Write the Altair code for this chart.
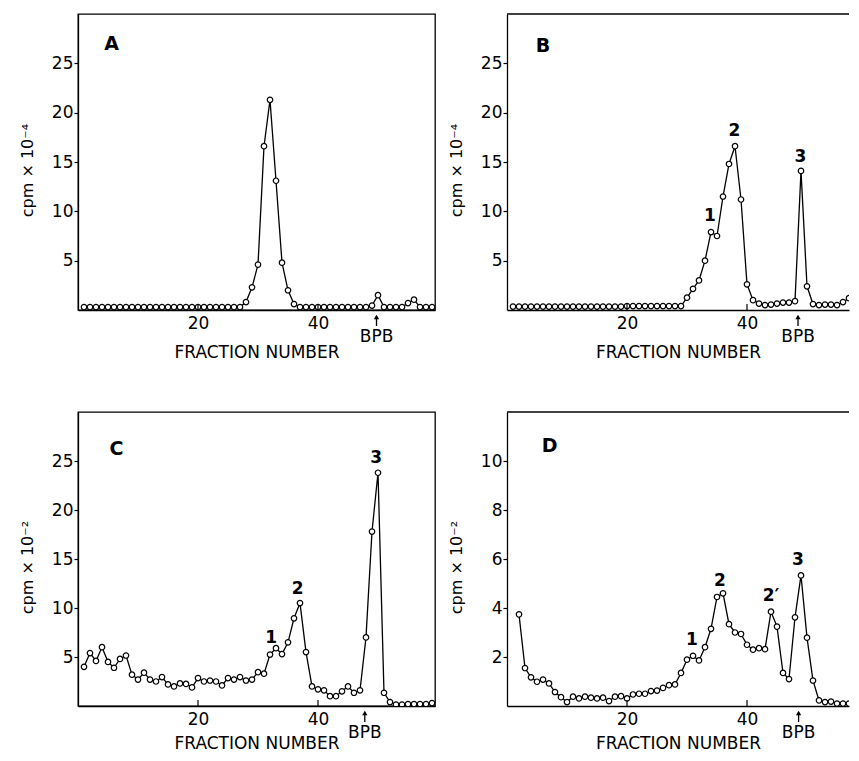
import altair as alt
import pandas as pd

FONT = "DejaVu Sans"

# ---------------- data ----------------
frac_full = list(range(1, 60))   # panels A, B, C
frac_d = list(range(2, 59))      # panel D

vals_a = ([0.3] * 27 +
          [0.8, 2.3, 4.6, 16.6, 21.3, 13.1, 4.8, 2.0, 0.6] +
          [0.3] * 12 + [0.45, 1.5] + [0.3] * 4 + [0.7, 1.05] + [0.3] * 3)

vals_b = ([0.35] * 19 + [0.4] * 10 +
          [1.25, 2.15, 3.0, 5.0, 7.9, 7.5, 11.5, 14.8, 16.6, 11.2, 2.6, 1.0,
           0.65, 0.5, 0.55, 0.65, 0.75, 0.75, 0.9, 14.1, 2.4, 0.6, 0.5, 0.55,
           0.55, 0.5, 0.8, 1.2, 0.55, 0.5])

vals_c = [4.0, 5.4, 4.6, 6.0, 4.5, 3.9, 4.8, 5.15, 3.2, 2.7,
          3.4, 2.7, 2.5, 2.95, 2.2, 2.0, 2.3, 2.25, 1.9, 2.85,
          2.5, 2.6, 2.5, 2.1, 2.85, 2.7, 2.95, 2.6, 2.7, 3.45,
          3.3, 5.25, 5.9, 5.3, 6.5, 8.95, 10.5, 5.5, 2.0, 1.7,
          1.6, 1.0, 1.0, 1.5, 2.0, 1.35, 1.6, 7.0, 17.8, 23.8,
          1.35, 0.4, 0.15, 0.15, 0.2, 0.2, 0.2, 0.2, 0.3]

vals_d = [3.74, 1.55, 1.17, 0.99, 1.08, 0.92, 0.57, 0.36, 0.16, 0.38,
          0.31, 0.38, 0.34, 0.31, 0.34, 0.2, 0.38, 0.4, 0.31, 0.47,
          0.5, 0.5, 0.61, 0.63, 0.74, 0.85, 0.88, 1.35, 1.89, 2.05,
          1.86, 2.4, 3.15, 4.45, 4.6, 3.34, 3.0, 2.94, 2.5, 2.3,
          2.36, 2.32, 3.85, 3.24, 1.35, 1.1, 3.62, 5.33, 2.79, 1.04,
          0.23, 0.16, 0.18, 0.1, 0.1, 0.1, 0.2]

xtick_vals = [20, 40]
yticks_abc = [5, 10, 15, 20, 25]
yticks_d = [2, 4, 6, 8, 10]

panel_letters = ["A", "B", "C", "D"]
letter_frac = [5.6, 6.0, 6.4, 7.1]
letter_val = [27.0, 26.8, 26.2, 10.6]

peak_text_b = ["1", "2", "3"]
peak_frac_b = [33.8, 37.9, 48.9]
peak_val_b = [9.5, 18.1, 15.5]

peak_text_c = ["1", "2", "3"]
peak_frac_c = [32.2, 36.6, 49.7]
peak_val_c = [6.9, 11.9, 25.3]

peak_text_d = ["1", "2", "2\u2032", "3"]
peak_frac_d = [30.8, 35.5, 44.0, 48.5]
peak_val_d = [2.7, 5.1, 4.5, 5.94]

bpb_frac = [49.75, 48.5, 47.8, 48.6]
bpb_text = "BPB"

y_titles = ["cpm \u00d7 10\u207b\u2074", "cpm \u00d7 10\u207b\u2074",
            "cpm \u00d7 10\u207b\u00b2", "cpm \u00d7 10\u207b\u00b2"]


def panel(frac, vals, idx, peaks, ymax, yticks, W, H, xmax, boxed, xtitle_pad):
    df = pd.DataFrame({"frac": frac, "val": vals})

    def xenc():
        return alt.X("frac:Q",
                     scale=alt.Scale(domain=[0, xmax], nice=False, zero=False),
                     axis=alt.Axis(values=xtick_vals, ticks=False, tickSize=0,
                                   labelPadding=5, title="FRACTION NUMBER",
                                   titlePadding=xtitle_pad, grid=False))

    def yenc():
        return alt.Y("val:Q",
                     scale=alt.Scale(domain=[0, ymax], nice=False, zero=False),
                     axis=alt.Axis(values=yticks, tickSize=4, labelPadding=1,
                                   title=y_titles[idx], titlePadding=16,
                                   titleY=H / 2 + 8, grid=False))

    line = alt.Chart(df).mark_line(color="black", strokeWidth=1.3, clip=True).encode(
        x=xenc(), y=yenc())
    pts = alt.Chart(df).mark_point(shape="circle", filled=True, fill="white",
                                   stroke="black", strokeWidth=1.2, size=30,
                                   opacity=1, clip=True).encode(x=xenc(), y=yenc())

    dlet = pd.DataFrame({"frac": [letter_frac[idx]], "val": [letter_val[idx]],
                         "t": [panel_letters[idx]]})
    letter = alt.Chart(dlet).mark_text(font=FONT, fontSize=19, fontWeight="bold",
                                       color="black").encode(
        x=xenc(), y=yenc(), text="t:N")

    layers = [line, pts, letter]

    if peaks is not None:
        dpk = pd.DataFrame({"frac": peaks[1], "val": peaks[2], "t": peaks[0]})
        layers.append(alt.Chart(dpk).mark_text(font=FONT, fontSize=17,
                                               fontWeight="bold", color="black").encode(
            x=xenc(), y=yenc(), text="t:N"))

    dticks = pd.DataFrame({"frac": xtick_vals})
    layers.append(alt.Chart(dticks).mark_rule(color="black", strokeWidth=1.2).encode(
        x=xenc(), y=alt.value(H), y2=alt.value(H - 6)))

    dbpb = pd.DataFrame({"frac": [bpb_frac[idx]], "t": [bpb_text]})
    layers.append(alt.Chart(dbpb).mark_rule(color="black", strokeWidth=1.3).encode(
        x=xenc(), y=alt.value(H + 6), y2=alt.value(H + 16)))
    layers.append(alt.Chart(dbpb).mark_point(shape="triangle-up", filled=True,
                                             color="black", size=28, opacity=1).encode(
        x=xenc(), y=alt.value(H + 7)))
    layers.append(alt.Chart(dbpb).mark_text(font=FONT, fontSize=17, baseline="top",
                                            color="black").encode(
        x=xenc(), y=alt.value(H + 19), text="t:N"))

    if not boxed:
        layers.append(alt.Chart(alt.Data(values=[{}])).mark_rule(
            color="black", strokeWidth=1.3).encode(
            x=alt.value(0), x2=alt.value(W), y=alt.value(0)))

    ch = alt.layer(*layers).properties(width=W, height=H)
    if boxed:
        ch = ch.properties(view=alt.ViewBackground(stroke="black", strokeWidth=1.3))
    else:
        ch = ch.properties(view=alt.ViewBackground(stroke="transparent"))
    return ch


WL, WR = 357, 342
H1, H2 = 296, 294

pa = panel(frac_full, vals_a, 0, None, 30, yticks_abc, WL, H1, 59.5, True, 13)
pb = panel(frac_full, vals_b, 1, (peak_text_b, peak_frac_b, peak_val_b), 30,
           yticks_abc, WR, H1, WR / 6.0, False, 13)
pc = panel(frac_full, vals_c, 2, (peak_text_c, peak_frac_c, peak_val_c), 30,
           yticks_abc, WL, H2, 59.5, True, 8)
pd_ = panel(frac_d, vals_d, 3, (peak_text_d, peak_frac_d, peak_val_d), 12,
            yticks_d, WR, H2, WR / 6.0, False, 8)

chart = alt.concat(pa, pb, pc, pd_, columns=2, bounds="flush",
                   spacing={"row": 102, "column": 72}).properties(
    padding={"left": 10, "top": 4, "right": 0, "bottom": 0}
).configure_view(stroke="transparent").configure_axis(
    labelFont=FONT, titleFont=FONT, labelFontSize=17, titleFontSize=16,
    titleFontWeight="normal", labelColor="black", titleColor="black",
    domainColor="black", domainWidth=1.3, tickColor="black", tickWidth=1.2
).configure_axisX(titleFontSize=17).configure_text(font=FONT)

chart.save("out.html", embed_options={"renderer": "svg", "actions": False})
